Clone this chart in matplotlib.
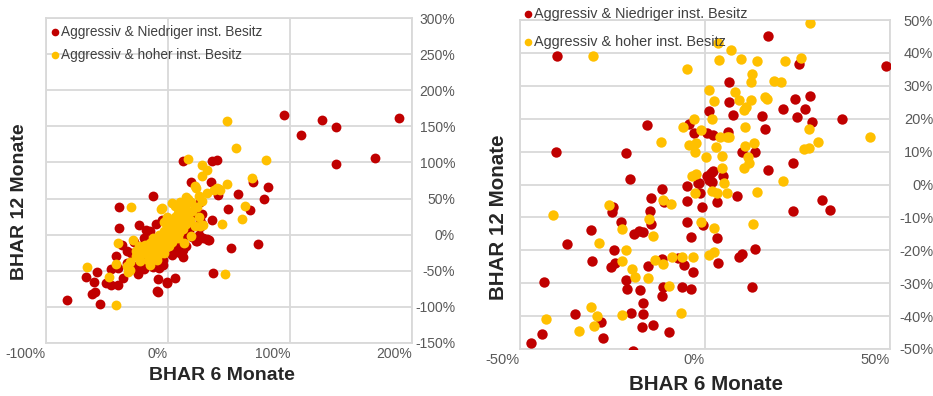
import matplotlib
matplotlib.use('Agg')
import matplotlib.pyplot as plt
from matplotlib.ticker import FuncFormatter, MultipleLocator
from matplotlib.lines import Line2D

plt.rcParams['font.family'] = ['Liberation Sans', 'DejaVu Sans']
plt.rcParams['axes.unicode_minus'] = False

RED = '#C00000'
YEL = '#FFC000'
label_red = 'Aggressiv & Niedriger inst. Besitz'
label_yel = 'Aggressiv & hoher inst. Besitz'
xlabel = 'BHAR 6 Monate'
ylabel = 'BHAR 12 Monate'

# ---- left chart (values in %) ----
left_red_x = [95, 126, 138, 189, 109, 138, 170, 12, 36, 40, 19, 35, 70, 82, 57, 79, -12, 41,
              49, 67, 36, 29, 33, 52, 74, 37, 23, 12, 12, 6, -1, -8, -8, -40, -40, -43, -41,
              -67, -58, -61, -60, -62, -56, -83, -51, -47, -41, -37, -47, -34, -25, -23, -9,
              -1, -34, -26, -20, -18, -24, -38, -12, -16, -4, -22, 26, 26, 28, 24, 32, 34,
              11, -4, -7, -28, -20, -15, -10, -5, 0, 5, 8, 14, 17, 20, 25, 28, -20, -12, -5,
              3, 10, 22, 26, -18, -22, -8, 15, -30]
left_red_y = [165, 159, 149, 161, 138, 98, 106, 102, 102, 104, 73, 73, 73, 66, 57, 49, 53, 55,
              35, 34, 20, -5, -7, -18, -13, -53, -9, -21, -31, -60, -67, -61, -80, 38, 9, -29,
              -46, -59, -52, -66, -79, -82, -96, -90, -67, -70, -70, -60, -48, -39, -55, -48,
              -78, -66, -22, -44, -48, 7, 14, -14, -23, -30, -42, -44, 21, 11, 28, -9, -6, -8,
              -21, -35, -46, -10, -5, 5, 15, 20, -15, -20, -12, 0, 5, -3, 0, 15, -38, -45,
              -35, -28, -25, 30, 45, -12, -15, -22, -15, -25]

left_yel_x = [48, 56, 16, 80, 28, 32, 28, 69, 48, 40, 43, 22, 15, 23, 25, 16, -6, 3, 42, 38,
              32, 28, 63, 61, 44, 47, -30, -41, -43, -66, -48, -43, -31, -31, -34, -33, -26,
              -23, -29, -24, -19, -15, -12, -7, -1, 4, -7, -3, -9, -15, -5, 29, 26, 13, 19,
              2, -20, -18, -15, -12, -10, -8, -6, -5, -3, -2, 0, 0, 2, 3, 4, 5, 6, 7, 8, 9,
              10, 11, 12, 13, 14, 15, 16, 18, 19, 20, 22, 24, 25, -14, -16, -24, -22, -26,
              -8, -4, 1, 3, 8, -1, -3, 6, 10]
left_yel_y = [157, 120, 105, 104, 96, 89, 81, 79, 70, 65, 62, 67, 52, 65, 53, 49, 35, 44, 63,
              62, 58, 46, 40, 22, 15, -54, 38, -11, -40, -45, -58, -98, -38, -49, -44, -52,
              -30, -37, -7, -15, -14, -11, -5, 0, 7, 12, -23, -25, -35, -42, 37, 14, 12, -12,
              -2, -12, -25, -20, -15, -18, -10, -5, -12, 0, 5, -8, 10, 0, 15, 5, 20, -3, 25,
              10, 30, 3, 18, 35, 8, 25, 40, 15, 28, 20, 45, 33, 12, 38, 25, -30, -35, -28,
              -20, -22, -28, -18, -15, -10, -5, 25, 18, 40, 45]

# ---- right chart (values in %) ----
right_red_x = [-40, 17, 49, 25.5, 6.4, 6.6, 24.2, 28.5, 21.0, 27.0, 1.0, 7.6, 15.4, 24.8, 37.0,
               28.8, -4.4, -3.1, 0.5, 2.1, 6.1, 16.3, -15.8, -40.2, -21.4, 10.0, 13.6, 17.0,
               23.7, 1.6, 2.2, 4.8, 1.2, -1.5, -4.9, -11.6, -20.4, 0.6, 31.6, 33.8, 23.7, 8.6,
               3.2, -0.8, -0.5, 3.2, 13.6, 10.0, 9.3, 3.4, 12.7, -4.9, -1.3, -11.1, -14.7,
               -25.0, -25.1, -14.9, -14.6, -22.7, -4.9, -30.8, -19.2, -17.8, -16.7, -3.9,
               -37.4, -24.5, -30.6, -25.5, -24.3, -21.4, -21.0, -15.5, -11.7, -7.2, -5.7,
               -3.2, -43.5, -17.5, -11.3, -11.7, -6.3, -3.8, -16.7, -16.7, -20.0, -35.1,
               -28.1, -27.6, -44.1, -47.0, -17.1, -14.0, -9.7, -19.5, 1.8, -2.0]
right_red_y = [39, 45, 36, 36.6, 31.2, 25.0, 25.9, 26.8, 23.0, 23.0, 22.4, 21.2, 20.8, 20.5,
               19.9, 19.0, 18.3, 15.6, 15.7, 15.0, 16.0, 16.8, 18.0, 9.8, 9.5, 9.8, 10.0, 4.4,
               6.4, 3.4, 4.0, 2.7, 1.4, 0.4, -0.5, -1.5, 1.6, 2.7, -4.7, -7.7, -8.1, -3.4,
               -5.2, -6.7, -12.3, -16.4, -19.7, -21.1, -21.9, -23.8, -31.1, -5.0, -2.7, -5.4,
               -4.2, -6.7, -8.3, -8.1, -12.1, -11.3, -11.3, -13.8, -15.0, -14.1, -14.3, -15.9,
               -18.2, -19.9, -23.2, -25.2, -24.0, -29.0, -31.9, -24.8, -22.7, -22.4, -24.5,
               -26.7, -29.5, -32.0, -31.1, -33.9, -31.1, -31.8, -35.9, -39.4, -39.0, -39.4,
               -41.9, -46.6, -45.5, -48.3, -43.2, -42.7, -44.9, -50.6, 0.8, 0.4]

right_yel_x = [-30.2, -4.9, 3.4, 6.9, 3.8, 9.7, 14.0, 21.7, 25.9, 28.5, 12.7, 12.4, 18.7, 20.5,
               1.0, 8.2, 9.1, 2.4, 12.4, 16.3, 16.7, 10.6, 11.2, 1.9, -2.9, -6.0, -1.1, 4.1,
               6.6, 5.9, 10.9, 28.2, 44.7, -11.9, -4.4, -2.4, -2.7, 3.0, 10.9, 13.3, 11.5,
               12.0, 4.6, 0.3, 26.7, 28.0, 30.6, 4.6, 10.5, 21.2, -3.5, -2.5, 5.0, 14.0, 5.9,
               3.2, 1.9, -1.1, 2.4, 12.9, 2.5, 1.0, -11.4, -9.2, -2.7, -25.9, -41, -15.1,
               -22.5, -14.1, -28.6, -21.4, -22.5, -19.8, -18.9, -15.3, -13.5, -11.3, -9.0,
               -6.3, -3.2, -9.7, -22.5, -30.8, -29.3, -30.0, -34.0, -43.1, -6.6]
right_yel_y = [39.2, 35.0, 42.9, 40.9, 37.8, 38.1, 37.5, 37.5, 38.5, 49.2, 33.6, 31.2, 31.6,
               31.2, 28.7, 28.2, 25.7, 25.5, 25.7, 26.7, 25.9, 22.6, 23.5, 19.9, 19.8, 17.4,
               16.6, 14.3, 14.3, 14.5, 17.4, 16.8, 14.5, 13.0, 12.0, 12.5, 9.8, 11.3, 11.8,
               12.7, 8.5, 6.4, 8.8, 8.3, 10.7, 11.0, 13.0, 5.1, 4.9, 1.1, 2.7, 3.3, 0.5, -2.2,
               -2.5, -2.7, -1.9, -11.3, -13.1, -12.1, -20.4, -21.4, -4.7, -5.9, -2.5, -6.2,
               -9.3, -10.6, -13.5, -15.7, -17.9, -19.9, -23.3, -25.8, -28.0, -28.3, -22.9,
               -24.2, -21.9, -21.9, -21.9, -30.9, -39.7, -37.3, -39.9, -43.0, -44.4, -40.9,
               -39.1]

W, H = 933, 396
fig = plt.figure(figsize=(W / 100, H / 100), dpi=100)

pct = FuncFormatter(lambda v, _: '%d%%' % round(v))


def style(ax, xmaj, ymaj, fs, ylab_pad):
    ax.xaxis.set_major_locator(MultipleLocator(xmaj))
    ax.yaxis.set_major_locator(MultipleLocator(ymaj))
    ax.xaxis.set_major_formatter(pct)
    ax.yaxis.set_major_formatter(pct)
    ax.yaxis.tick_right()
    ax.grid(True, color='#D9D9D9', linewidth=1.3, zorder=0)
    ax.set_axisbelow(True)
    for s in ax.spines.values():
        s.set_color('#D9D9D9')
        s.set_linewidth(1.3)
    ax.tick_params(axis='both', length=0, labelsize=fs, labelcolor='#595959')
    ax.tick_params(axis='y', pad=ylab_pad)
    ax.tick_params(axis='x', pad=3)
    for t in ax.get_yticklabels():
        t.set_horizontalalignment('right')
    for t in ax.get_xticklabels():
        t.set_horizontalalignment('right')


# left chart
ax1 = fig.add_axes([46 / W, 1 - 343 / H, 366 / W, 325 / H])
ax1.scatter(left_red_x, left_red_y, s=50, color=RED, linewidths=0, zorder=3)
ax1.scatter(left_yel_x, left_yel_y, s=50, color=YEL, linewidths=0, zorder=4)
ax1.set_xlim(-100, 200)
ax1.set_ylim(-150, 300)
style(ax1, 100, 50, 10, 31)

# right chart
ax2 = fig.add_axes([520 / W, 1 - 349 / H, 370 / W, 329 / H])
ax2.scatter(right_red_x, right_red_y, s=56, color=RED, linewidths=0, zorder=3)
ax2.scatter(right_yel_x, right_yel_y, s=56, color=YEL, linewidths=0, zorder=4)
ax2.set_xlim(-50, 50)
ax2.set_ylim(-50, 50)
style(ax2, 50, 10, 10.5, 31)

# axis titles
fig.text(222 / W, 1 - 376 / H, xlabel, fontsize=14, fontweight='bold', color='#262626',
         ha='center', va='center')
fig.text(20 / W, 1 - 202 / H, ylabel, fontsize=14, fontweight='bold', color='#262626',
         ha='center', va='center', rotation=90)
fig.text(706 / W, 1 - 384 / H, xlabel, fontsize=14.8, fontweight='bold', color='#262626',
         ha='center', va='center')
fig.text(499 / W, 1 - 217 / H, ylabel, fontsize=14.8, fontweight='bold', color='#262626',
         ha='center', va='center', rotation=90)

# legends
def legend_rows(x_mark, rows, fs, ms):
    for y, col, txt in rows:
        fig.add_artist(Line2D([x_mark / W], [1 - y / H], marker='o', color=col,
                              markersize=ms, linestyle='none', markeredgewidth=0))
        fig.text((x_mark + 6) / W, 1 - y / H, txt, fontsize=fs, color='#404040',
                 ha='left', va='center')


legend_rows(55, [(32, RED, label_red), (55, YEL, label_yel)], 9.8, 5.5)
legend_rows(528, [(14, RED, label_red), (42, YEL, label_yel)], 10.4, 5.5)

fig.savefig('out.png', dpi=100)
